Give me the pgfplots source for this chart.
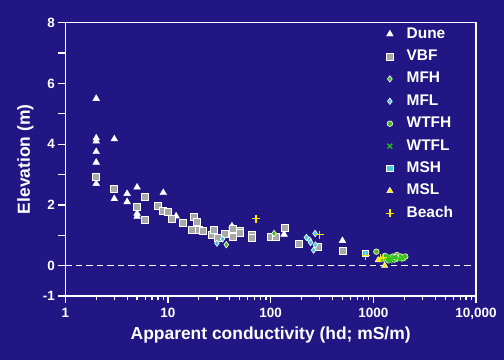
\documentclass[border=0pt]{standalone}
\usepackage{fontspec}
\setmainfont{Liberation Sans}
\usepackage{pgfplots}
\pgfplotsset{compat=1.18}
\definecolor{bg}{RGB}{33,22,132}
\definecolor{sqgray}{RGB}{168,168,168}
\definecolor{mgreen}{RGB}{60,190,30}
\definecolor{cgreen}{RGB}{80,185,20}
\definecolor{xgreen}{RGB}{40,200,20}
\definecolor{mcyan}{RGB}{70,200,225}
\definecolor{myellow}{RGB}{255,230,0}
\pgfplotsset{mymarks/.style={only marks,
  legend image code/.code={\path (0cm,-0.1cm) (0.8cm,0.1cm); \draw[mark repeat=2,mark phase=2,##1] plot coordinates {(0cm,0cm) (0.3cm,0cm) (0.6cm,0cm)};}}}
\begin{document}
\begin{tikzpicture}
\fill[bg] (0,0) rectangle (504bp,360bp);
\begin{axis}[
  at={(65.3bp,64bp)}, anchor=south west,
  scale only axis, width=410.7bp, height=273.3bp,
  xmode=log, xmin=1, xmax=10000, ymin=-1, ymax=8,
  axis line style={white, line width=1.5bp},
  every tick/.style={white, line width=1.2bp},
  major tick length=7bp, minor tick length=4bp,
  tick align=outside, xtick pos=bottom, ytick pos=left,
  xtick={1,10,100,1000,10000}, xticklabels={1,10,100,1000,{10,000}},
  ytick={-1,0,1,2,3,4,5,6,7,8}, yticklabels={-1,0,,2,,4,,6,,8},
  /pgf/number format/assume math mode=true,
  tick label style={font=\fontsize{13.5}{15}\selectfont\bfseries, text=white},
  xticklabel style={yshift=-2bp},
  xlabel={Apparent conductivity (hd; mS/m)},
  ylabel={Elevation (m)},
  xlabel style={font=\fontsize{17.5}{20}\selectfont\bfseries, text=white, at={(axis description cs:0.5,-0.161)}, anchor=base},
  ylabel style={font=\fontsize{17.5}{20}\selectfont\bfseries, text=white, at={(axis description cs:-0.086,0.5)}, anchor=base},
  legend style={draw=none, fill=none, text=white, inner sep=0pt,
    font=\fontsize{15.5}{18}\selectfont\bfseries,
    at={(0.7675,0.992)}, anchor=north west, row sep=4.4bp,
    nodes={text height=11bp, text depth=3bp, inner ysep=2bp}},
  legend cell align=left,
]
\addplot[white, line width=1.6bp, dash pattern=on 6.5bp off 4bp, forget plot] coordinates {(1,0) (10000,0)};
% Dune
\addplot[mymarks, color=white, mark=triangle*, mark size=3.9bp, mark options={fill=white, draw=white}] coordinates {
(2,5.5) (2,4.2) (2,4.1) (2,3.75) (2,3.4) (2,2.7) (3,4.17) (3,2.2) (4,2.37) (4,2.1)
(5,2.58) (5,1.72) (5,1.62) (9,2.4) (12,1.63) (42,1.3) (135,1.03) (500,0.82)};
\addlegendentry{Dune}
% VBF
\addplot[mymarks, color=white, line width=0.9bp, mark=square*, mark size=3.5bp, mark options={fill=sqgray, draw=white, line width=0.9bp}] coordinates {
(2,2.93) (3,2.53) (5,1.93) (6,2.25) (6,1.52) (8,1.97) (9,1.81) (10,1.78) (11,1.55) (14,1.41)
(18,1.59) (19,1.45) (17,1.18) (20,1.19) (22,1.14) (27,1.0) (28,1.17) (31,0.92) (36,1.03)
(43,0.93) (43,1.2) (50,1.14) (50,1.06) (66,1.0) (66,0.92) (100,0.93) (113,0.96) (137,1.24)
(187,0.71) (290,0.62) (510,0.5)};
\addlegendentry{VBF}
% MFH
\addplot[mymarks, color=white, line width=0.6bp, mark=diamond*, mark size=3.2bp, mark options={fill=mgreen, draw=white, line width=0.6bp}] coordinates {
(37,0.69) (108,1.06)};
\addlegendentry{MFH}
% MFL
\addplot[mymarks, color=white, line width=0.6bp, mark=diamond*, mark size=3.2bp, mark options={fill=mcyan, draw=white, line width=0.6bp}] coordinates {
(30,0.74) (34,0.88) (223,0.93) (240,0.84) (245,0.76) (271,1.06) (273,0.68) (262,0.51)};
\addlegendentry{MFL}
% WTFH
\addplot[mymarks, color=white, line width=0.6bp, mark=*, mark size=2.8bp, mark options={fill=cgreen, draw=white, line width=0.6bp}] coordinates {
(1070,0.46) (1250,0.22) (1350,0.28) (1450,0.25) (1550,0.3) (1600,0.2) (1700,0.35) (1750,0.25)
(1850,0.3) (1950,0.24) (2050,0.3) (1400,0.18) (1650,0.28) (1300,0.32)};
\addlegendentry{WTFH}
% WTFL
\addplot[mymarks, color=xgreen, line width=1.2bp, mark=x, mark size=3.5bp, mark options={draw=xgreen, line width=1.2bp}] coordinates {
(1200,0.2) (1300,0.25) (1400,0.3) (1500,0.22) (1600,0.27) (1800,0.2) (1900,0.28) (1450,0.15)};
\addlegendentry{WTFL}
% MSH
\addplot[mymarks, color=white, line width=0.8bp, mark=square*, mark size=3.2bp, mark options={fill=mcyan, draw=white, line width=0.8bp}] coordinates {
(840,0.4)};
\addlegendentry{MSH}
% MSL
\addplot[mymarks, color=white, line width=0.5bp, mark=triangle*, mark size=3.6bp, mark options={fill=myellow, draw=white, line width=0.5bp}] coordinates {
(1115,0.18) (1290,0.0)};
\addlegendentry{MSL}
% Beach
\addplot[mymarks, color=myellow, line width=1.3bp, mark=+, mark size=4bp, mark options={draw=myellow, line width=1.3bp}] coordinates {
(72,1.55) (300,1.02) (840,0.33) (1180,0.24) (1250,0.27)};
\addlegendentry{Beach}
\end{axis}
\pgfresetboundingbox
\path (0,0) rectangle (504bp,360bp);
\end{tikzpicture}
\end{document}
